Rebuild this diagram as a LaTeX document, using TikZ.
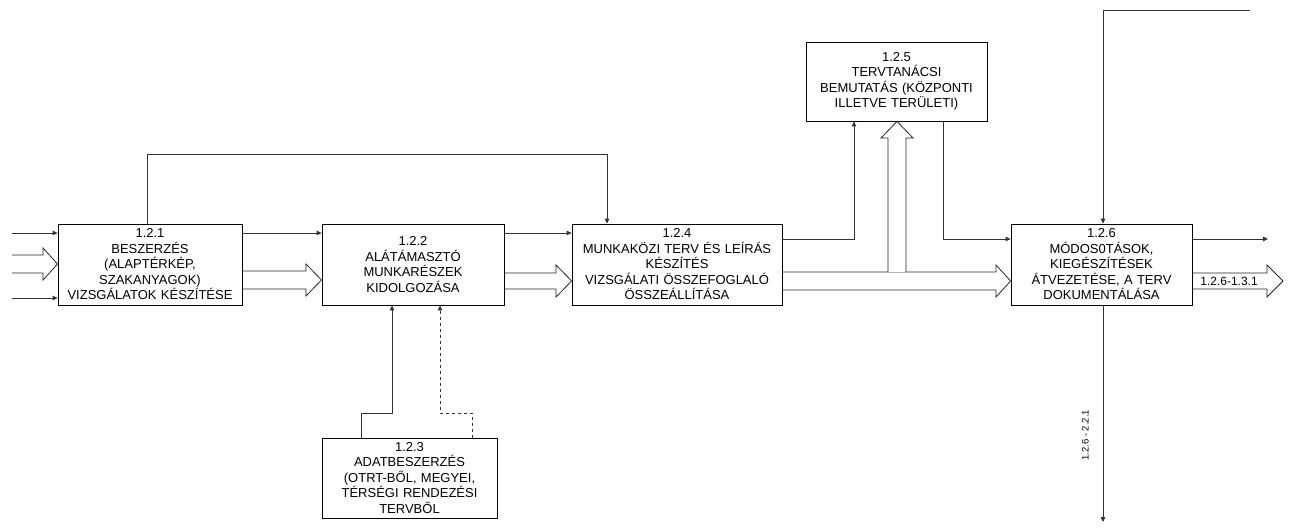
\documentclass[tikz,border=0pt]{standalone}
\usepackage{fontspec}
\setmainfont{Liberation Sans}
\usetikzlibrary{arrows.meta, calc}

\tikzset{
  box/.style={draw=black, line width=0.8pt, inner sep=0pt, align=center,
    font=\fontsize{13}{15.5}\selectfont},
  flow/.style={draw=black!80, line width=0.8pt, -{Triangle[length=5pt,width=4.5pt]}},
  hollow/.style={draw=black!85, line width=0.8pt},
  lbl/.style={inner sep=0pt, font=\fontsize{12}{13}\selectfont},
}

\begin{document}
\begin{tikzpicture}[x=1pt,y=-1pt]
  \useasboundingbox (0,0) rectangle (1292,532);
  % dobozok
  \node[box, minimum width=184pt, minimum height=81pt, text width=182pt] (b121) at (150,264.5)
    {1.2.1\\BESZERZÉS\\(ALAPTÉRKÉP,\\SZAKANYAGOK)\\VIZSGÁLATOK KÉSZÍTÉSE};
  \node[box, minimum width=182pt, minimum height=81pt, text width=178pt] (b122) at (413,264.5)
    {1.2.2\\ALÁTÁMASZTÓ\\MUNKARÉSZEK\\KIDOLGOZÁSA};
  \node[box, minimum width=175pt, minimum height=80pt, text width=171pt] (b123) at (409.5,478)
    {1.2.3\\ADATBESZERZÉS\\(OTRT-BŐL, MEGYEI,\\TÉRSÉGI RENDEZÉSI\\TERVBŐL};
  \node[box, minimum width=210pt, minimum height=81pt, text width=206pt] (b124) at (677,264.5)
    {1.2.4\\MUNKAKÖZI TERV ÉS LEÍRÁS\\KÉSZÍTÉS\\VIZSGÁLATI ÖSSZEFOGLALÓ\\ÖSSZEÁLLÍTÁSA};
  \node[box, minimum width=181pt, minimum height=79pt, text width=177pt] (b125) at (896.5,81.5)
    {1.2.5\\TERVTANÁCSI\\BEMUTATÁS (KÖZPONTI\\ILLETVE TERÜLETI)};
  \node[box, minimum width=181pt, minimum height=81pt, text width=177pt] (b126) at (1101.5,264.5)
    {1.2.6\\MÓDOS0TÁSOK,\\KIEGÉSZÍTÉSEK\\ÁTVEZETÉSE, A TERV\\DOKUMENTÁLÁSA};
  % szabad vegpontok
  \coordinate (in1) at (12,233);
  \coordinate (in3) at (12,298);
  \coordinate (topend) at (1250,10);
  \coordinate (out1) at (1268,239);
  \coordinate (out2) at (1103,522);
  % bemenetek
  \draw[flow] (in1) -- (b121.west |- in1);
  \draw[flow] (in3) -- (b121.west |- in3);
  \draw[hollow] (12,255) -- (43,255) -- (43,248) -- (b121.west |- 0,264) -- (43,280) -- (43,273) -- (12,273);
  % vekony nyilak
  \draw[flow] (b121.east |- 0,233) -- (b122.west |- 0,233);
  \draw[flow] (b122.east |- 0,233) -- (b124.west |- 0,233);
  \draw[flow] (b121.north -| 147,0) -- (147,154) -| (b124.north -| 607,0);
  \draw[flow] (b124.east |- 0,239) -| (b125.south -| 854,0);
  \draw[flow] (b125.south -| 943,0) |- (b126.west |- 0,239);
  \draw[flow] (topend) -| (b126.north -| 1103,0);
  \draw[flow] (b126.east |- out1) -- (out1);
  \draw[flow] (b126.south -| out2) -- (out2)
    node[lbl, pos=0.6, left=14pt, rotate=90, anchor=south, font=\fontsize{9.5}{11}\selectfont] {1.2.6 - 2.2.1};
  \draw[flow] (b123.north -| 361,0) |- (392,413) -- (b122.south -| 392,0);
  \draw[flow, dashed] (b123.north -| 472,0) |- (440,413) -- (b122.south -| 440,0);
  % vastag nyilak
  \draw[hollow] (b121.east |- 0,271) -- (306,271) -- (306,264) -- (b122.west |- 0,280)
    -- (306,296) -- (306,289) -- (b121.east |- 0,289);
  \draw[hollow] (b122.east |- 0,273) -- (556,273) -- (556,265) -- (b124.west |- 0,281)
    -- (556,297) -- (556,289) -- (b122.east |- 0,289);
  \draw[black!30, line width=0.8pt] (888,272) -- (906,272);
  \draw[hollow] (b124.east |- 0,272) -- (888,272) -- (888,138) -- (881,138) -- (b125.south -| 897,0)
    -- (913,138) -- (906,138) -- (906,272) -- (996,272) -- (996,265) -- (b126.west |- 0,281)
    -- (996,297) -- (996,290) -- (b124.east |- 0,290);
  \draw[hollow] (b126.east |- 0,273) -- (1267,273) -- (1267,265) -- (1283,281)
    -- (1267,297) -- (1267,289) -- (b126.east |- 0,289);
  \node[lbl] (l131) at (1229,281) {1.2.6-1.3.1};
\end{tikzpicture}
\end{document}
